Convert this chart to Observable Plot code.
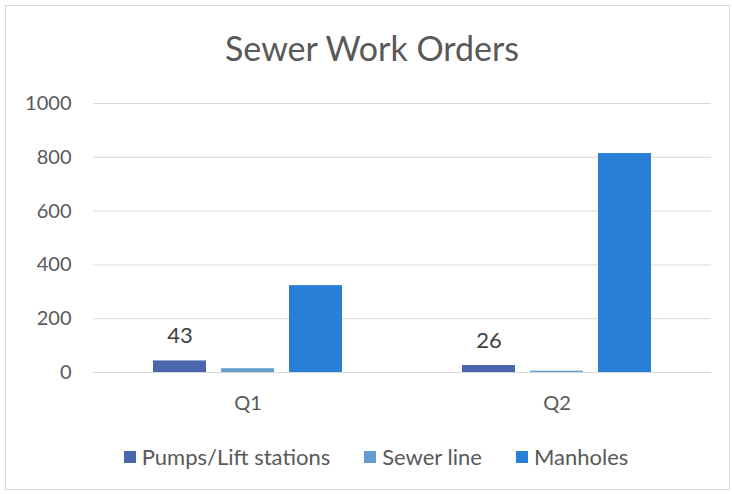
<!DOCTYPE html>
<html>
<head>
<meta charset="utf-8">
<script src="https://cdn.jsdelivr.net/npm/d3@7"></script>
<script src="https://cdn.jsdelivr.net/npm/@observablehq/plot@0.6"></script>
<style>
  body { margin: 0; background: #fff; font-family: Lato, "Open Sans", sans-serif; }
  #frame { position: relative; width: 732px; height: 494px; overflow: hidden; }
  #border { position: absolute; left: 5px; top: 5px; width: 725px; height: 485px; border: 1px solid #d9d9d9; box-sizing: border-box; }
  #title { position: absolute; left: 6px; width: 732px; top: 28px; text-align: center; font-size: 34px; color: #595959; line-height: 40px; }
  #chart { position: absolute; left: 0; top: 90px; }
  #legend { position: absolute; left: 10px; width: 732px; top: 443px; display: flex; justify-content: center; gap: 34px; font-size: 22px; color: #595959; line-height: 28px; }
  .item { display: flex; align-items: center; gap: 6px; }
  .sw { width: 12px; height: 12px; display: inline-block; }
</style>
</head>
<body>
<div id="frame">
  <div id="border"></div>
  <div id="title">Sewer Work Orders</div>
  <div id="chart"></div>
  <div id="legend"></div>
</div>
<script>
const quarters = ["Q1", "Q2"];
const seriesNames = ["Pumps/Lift stations", "Sewer line", "Manholes"];
const seriesColors = ["#4A66AC", "#629DD1", "#297FD5"];
const pumps = [43, 26];
const sewerLine = [14, 5];
const manholes = [323, 814];
const yTicks = [0, 200, 400, 600, 800, 1000];

const values = [pumps, sewerLine, manholes];
const data = [];
quarters.forEach((q, qi) => {
  seriesNames.forEach((s, si) => {
    data.push({quarter: q, series: s, value: values[si][qi]});
  });
});
const labelData = data.filter(d => d.series === "Pumps/Lift stations");

const chart = Plot.plot({
  width: 732,
  height: 340,
  marginTop: 13,
  marginBottom: 58,
  marginLeft: 93,
  marginRight: 21,
  style: {fontFamily: "Lato, 'Open Sans', sans-serif", fontSize: "20px", color: "#595959", background: "transparent"},
  fx: {domain: quarters, padding: 0, label: null, tickSize: 0, tickPadding: 23},
  x: {domain: seriesNames, paddingInner: 0.22, paddingOuter: 0.85, axis: null},
  y: {domain: [0, 1000], ticks: yTicks, tickFormat: d => String(d), label: null, tickSize: 0, tickPadding: 22},
  color: {domain: seriesNames, range: seriesColors},
  marks: [
    Plot.ruleY(yTicks, {stroke: "#d9d9d9", strokeWidth: 1, strokeOpacity: 1}),
    Plot.barY(data, {fx: "quarter", x: "series", y: "value", fill: "series"}),
    Plot.text(labelData, {fx: "quarter", x: "series", y: "value", text: d => String(d.value), dy: -25, fill: "#404040", fontSize: 22, lineAnchor: "middle"})
  ]
});
document.getElementById("chart").appendChild(chart);

const legend = document.getElementById("legend");
seriesNames.forEach((s, i) => {
  const item = document.createElement("div");
  item.className = "item";
  const sw = document.createElement("span");
  sw.className = "sw";
  sw.style.background = seriesColors[i];
  const t = document.createElement("span");
  t.textContent = s;
  item.appendChild(sw);
  item.appendChild(t);
  legend.appendChild(item);
});
</script>
</body>
</html>
